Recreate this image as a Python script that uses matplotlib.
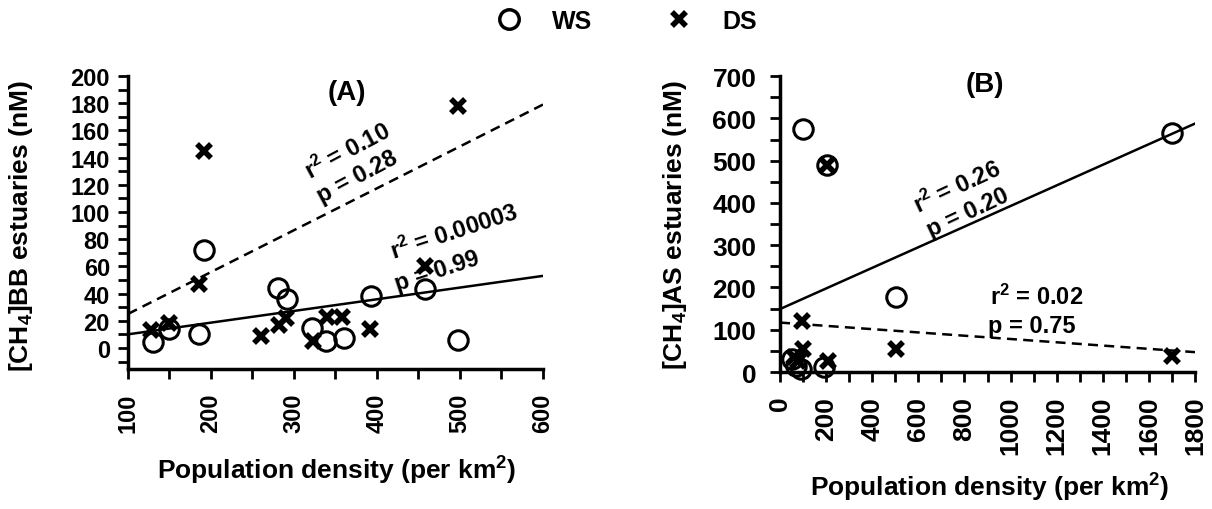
import matplotlib
matplotlib.use("Agg")
import matplotlib.pyplot as plt
from matplotlib.ticker import MultipleLocator
from matplotlib.lines import Line2D

plt.rcParams['font.family'] = ['Liberation Sans', 'DejaVu Sans']
plt.rcParams['font.weight'] = 'bold'
plt.rcParams['mathtext.fontset'] = 'custom'
plt.rcParams['mathtext.rm'] = 'Liberation Sans:bold'
plt.rcParams['mathtext.it'] = 'Liberation Sans:bold'
plt.rcParams['mathtext.bf'] = 'Liberation Sans:bold'

# Panel A - Bay of Bengal estuaries
a_ws_x = [130, 150, 185, 192, 281, 292, 322, 338, 360, 393, 458, 498]
a_ws_y = [4, 14, 10, 72, 44, 36, 15, 5, 7, 38, 43, 6]
a_ds_x = [128, 150, 185, 192, 260, 282, 290, 323, 340, 358, 392, 458, 498]
a_ds_y = [13, 18, 47, 145, 9, 17, 22, 5, 23, 23, 14, 60, 178]
a_fit_x = [100, 600]
a_fit_ws = [10, 53]
a_fit_ds = [25, 179]

# Panel B - Arabian Sea estuaries
b_ws_x = [50, 70, 90, 100, 190, 205, 505, 1700]
b_ws_y = [30, 15, 8, 575, 12, 490, 178, 565]
b_ds_x = [60, 80, 95, 100, 205, 210, 505, 1700]
b_ds_y = [35, 25, 120, 55, 490, 25, 55, 38]
b_fit_x = [0, 1800]
b_fit_ws = [149, 588]
b_fit_ds = [117, 47]

fig = plt.figure(figsize=(12.12, 5.10), dpi=100)
axA = fig.add_axes([0.1056, 0.2745, 0.3424, 0.5745])
axB = fig.add_axes([0.6436, 0.2686, 0.3424, 0.5800])

circ = dict(linestyle='none', marker='o', markersize=14, markerfacecolor='none',
            markeredgecolor='black', markeredgewidth=2.2, clip_on=False, zorder=3)
cross = dict(linestyle='none', marker='x', markersize=10, color='black',
             markeredgewidth=4, clip_on=False, zorder=4)

for ax, wx, wy, dx, dy, fx, fw, fd in [
        (axA, a_ws_x, a_ws_y, a_ds_x, a_ds_y, a_fit_x, a_fit_ws, a_fit_ds),
        (axB, b_ws_x, b_ws_y, b_ds_x, b_ds_y, b_fit_x, b_fit_ws, b_fit_ds)]:
    ax.plot(fx, fw, color='black', lw=1.8, zorder=2)
    ax.plot(fx, fd, color='black', lw=1.8, ls=(0, (4, 2.5)), zorder=2)
    ax.plot(wx, wy, **circ)
    ax.plot(dx, dy, **cross)
    ax.spines['top'].set_visible(False)
    ax.spines['right'].set_visible(False)
    ax.spines['left'].set_linewidth(2.5)
    ax.spines['bottom'].set_linewidth(2.5)
    ax.tick_params(which='both', direction='out', length=7, width=2)
    ax.tick_params(axis='x', rotation=90, pad=10)

# panel A axes
axA.set_xlim(100, 600)
axA.set_ylim(-15.5, 200)
axA.xaxis.set_major_locator(MultipleLocator(100))
axA.xaxis.set_minor_locator(MultipleLocator(50))
axA.yaxis.set_major_locator(MultipleLocator(20))
axA.yaxis.set_minor_locator(MultipleLocator(10))
axA.set_yticks(range(0, 201, 20))
axA.tick_params(labelsize=17)
axA.tick_params(axis='y', pad=6)
axA.set_ylabel('[CH$_4$]BB estuaries (nM)', fontsize=19, fontweight='bold')
axA.set_xlabel('Population density (per km$^2$)', fontsize=19, fontweight='bold')
axA.yaxis.set_label_coords(-0.225, 0.49)
axA.xaxis.set_label_coords(0.503, -0.29)

axA.text(364, 188, '(A)', fontsize=20, ha='center', va='center')
axA.text(365, 145, 'r$^2$ = 0.10', fontsize=17, ha='center', va='center', rotation=28, zorder=1)
axA.text(376, 126, 'p = 0.28', fontsize=17, ha='center', va='center', rotation=28, zorder=1)
axA.text(493, 86, 'r$^2$ = 0.00003', fontsize=17, ha='center', va='center', rotation=18, zorder=1)
axA.text(472, 57, 'p = 0.99', fontsize=17, ha='center', va='center', rotation=18, zorder=1)

# panel B axes
axB.set_xlim(0, 1800)
axB.set_ylim(0, 700)
axB.xaxis.set_major_locator(MultipleLocator(200))
axB.xaxis.set_minor_locator(MultipleLocator(100))
axB.yaxis.set_major_locator(MultipleLocator(100))
axB.yaxis.set_minor_locator(MultipleLocator(50))
axB.tick_params(labelsize=19)
axB.tick_params(axis='y', pad=10)
axB.set_ylabel('[CH$_4$]AS estuaries (nM)', fontsize=19, fontweight='bold')
axB.set_xlabel('Population density (per km$^2$)', fontsize=19, fontweight='bold')
axB.yaxis.set_label_coords(-0.22, 0.5)
axB.xaxis.set_label_coords(0.506, -0.334)

axB.text(889, 681, '(B)', fontsize=20, ha='center', va='center')
axB.text(768, 440, 'r$^2$ = 0.26', fontsize=17, ha='center', va='center', rotation=25, zorder=1)
axB.text(815, 378, 'p = 0.20', fontsize=17, ha='center', va='center', rotation=25, zorder=1)
axB.text(1114, 180, 'r$^2$ = 0.02', fontsize=17, ha='center', va='center')
axB.text(1093, 109, 'p = 0.75', fontsize=17, ha='center', va='center')

handles = [Line2D([], [], marker='o', linestyle='none', markersize=14, markerfacecolor='none',
                  markeredgecolor='black', markeredgewidth=2.5),
           Line2D([], [], marker='x', linestyle='none', markersize=10, color='black',
                  markeredgewidth=4)]
fig.legend(handles, ['WS', 'DS'], ncol=2, loc='center', bbox_to_anchor=(0.517, 0.957),
           frameon=False, fontsize=18, handlelength=1, handletextpad=1.2, columnspacing=3.0)

fig.savefig('out.png', dpi=100)
